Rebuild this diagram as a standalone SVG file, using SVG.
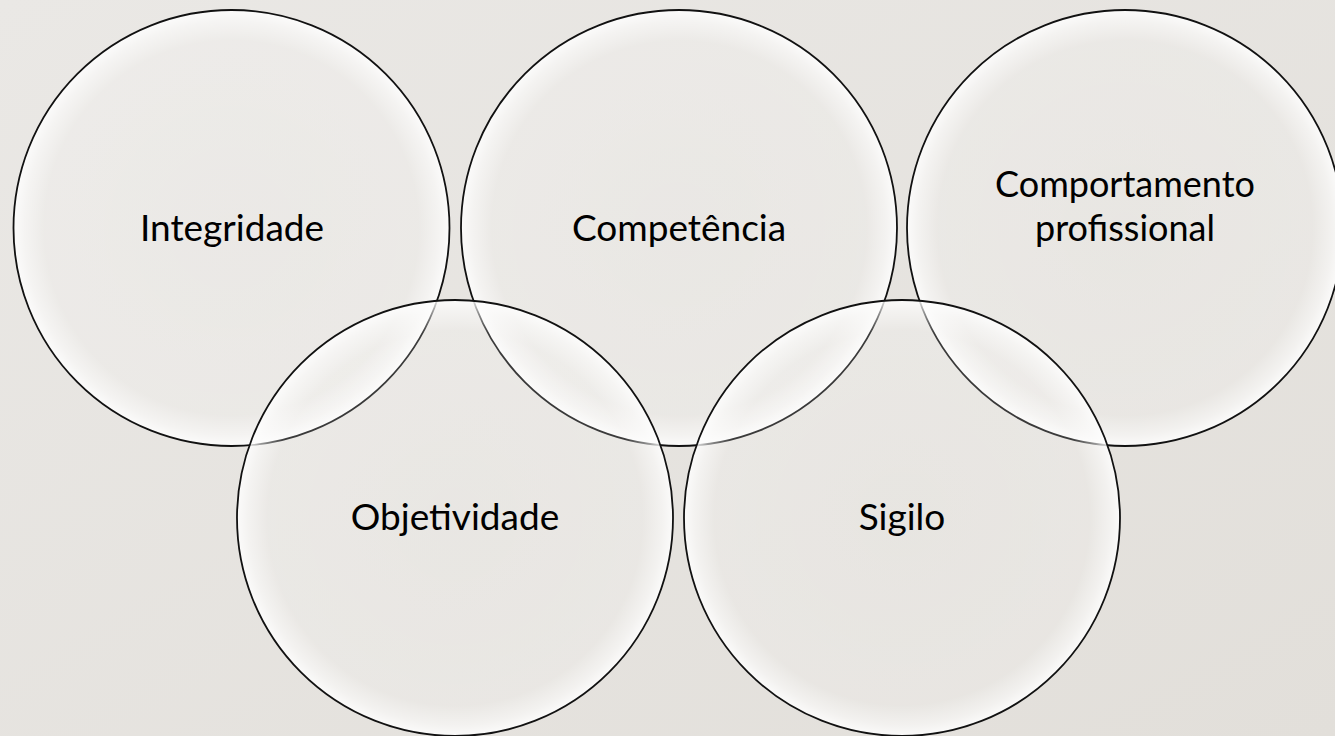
<svg xmlns="http://www.w3.org/2000/svg" width="1335" height="736" viewBox="0 0 1335 736">
<defs>
<linearGradient id="bg" x1="0" y1="0" x2="1" y2="1">
<stop offset="0" stop-color="#eae8e5"/>
<stop offset="1" stop-color="#e2dfda"/>
</linearGradient>
<radialGradient id="bub" cx="0.5" cy="0.5" r="0.5">
<stop offset="0" stop-color="#ffffff" stop-opacity="0.12"/>
<stop offset="0.86" stop-color="#ffffff" stop-opacity="0.18"/>
<stop offset="0.95" stop-color="#ffffff" stop-opacity="0.55"/>
<stop offset="1" stop-color="#ffffff" stop-opacity="0.85"/>
</radialGradient>
</defs>
<style>
.c{fill:url(#bub);stroke:#111;stroke-width:1.8}
.t{font-family:Lato,"Open Sans",sans-serif;font-size:37px;fill:#000;text-anchor:middle}
.t2{font-size:36px}
</style>
<rect width="1335" height="736" fill="url(#bg)"/>
<g id="integridade"><circle class="c" cx="231.5" cy="228" r="218"/><text class="t" x="232" y="241">Integridade</text></g>
<g id="competencia"><circle class="c" cx="679" cy="228" r="218"/><text class="t" x="679" y="241">Competência</text></g>
<g id="comportamento"><circle class="c" cx="1125" cy="228" r="218"/><text class="t t2" x="1125" y="197">Comportamento</text><text class="t t2" x="1125" y="241">profissional</text></g>
<g id="objetividade"><circle class="c" cx="455" cy="518" r="218"/><text class="t" x="455" y="530">Objetividade</text></g>
<g id="sigilo"><circle class="c" cx="902" cy="518" r="218"/><text class="t" x="902" y="530">Sigilo</text></g>
<g id="connectors"></g>
</svg>
